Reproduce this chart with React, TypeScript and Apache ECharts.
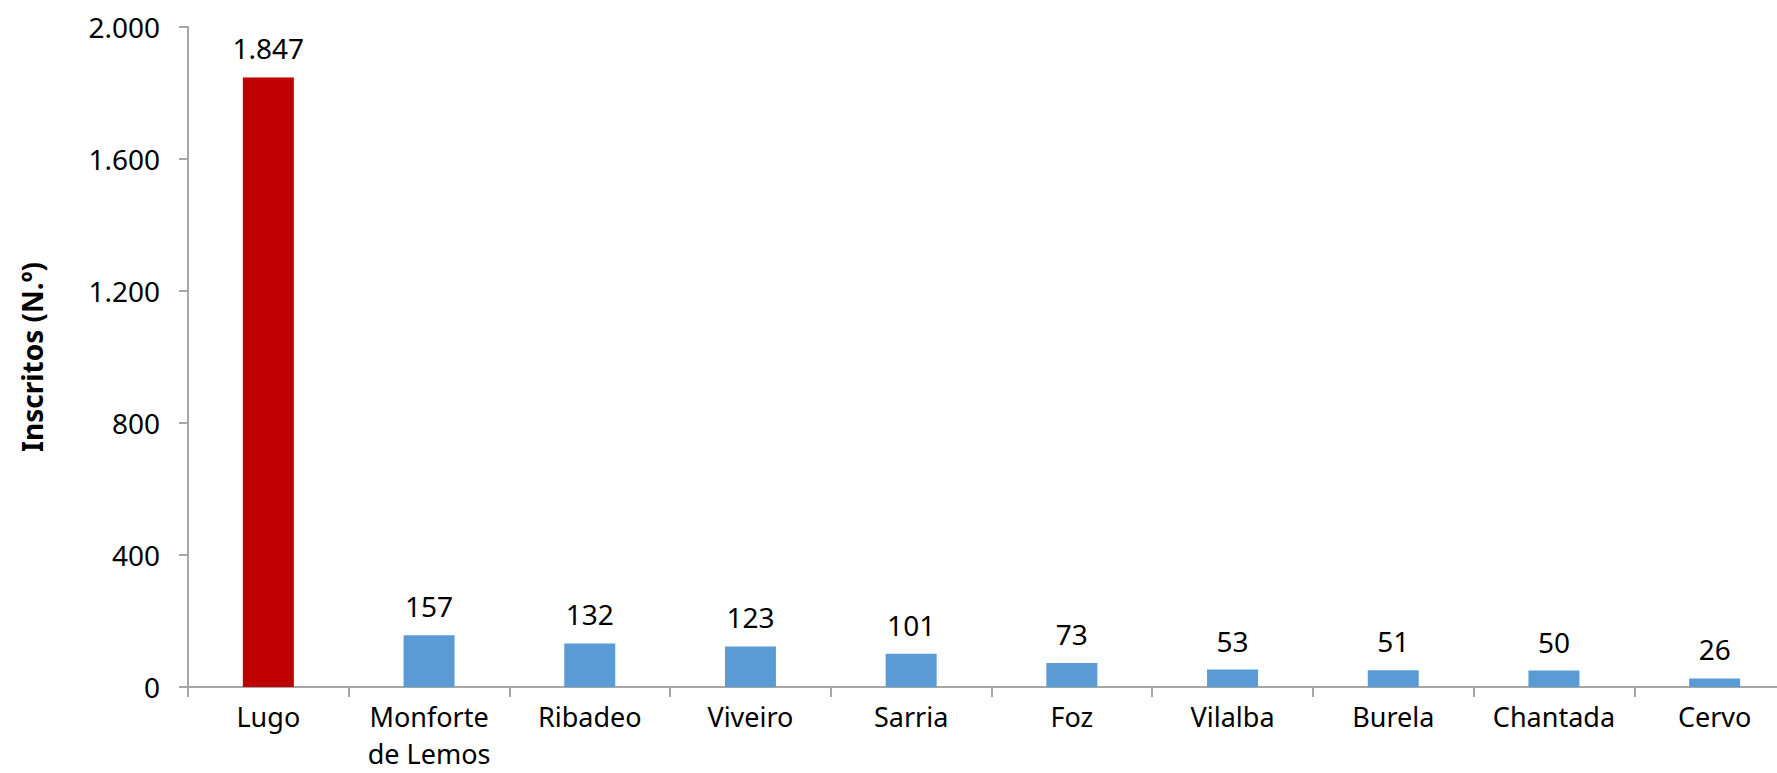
import React, { useEffect, useRef } from "react";
import * as echarts from "echarts";

const categories = ["Lugo", "Monforte\nde Lemos", "Ribadeo", "Viveiro", "Sarria", "Foz", "Vilalba", "Burela", "Chantada", "Cervo"];
const values = [1847, 157, 132, 123, 101, 73, 53, 51, 50, 26];
const highlightIndex = 0;
const yMin = 0;
const yMax = 2000;
const yInterval = 400;
const yAxisTitle = "Inscritos (N.º)";

const fmt = (v: number) => String(v).replace(/\B(?=(\d{3})+(?!\d))/g, ".");

const FONT = "Noto Sans";

export default function App() {
  const ref = useRef<HTMLDivElement>(null);
  useEffect(() => {
    if (!ref.current) return;
    const chart = echarts.init(ref.current, undefined, { renderer: "svg" });
    chart.setOption({
      animation: false,
      backgroundColor: "#ffffff",
      grid: { left: 188, top: 27, bottom: 86, right: -18, containLabel: false, outerBoundsMode: "none" },
      xAxis: {
        type: "category",
        data: categories,
        axisLine: { lineStyle: { color: "#A6A6A6", width: 2 } },
        axisTick: { show: true, length: 10, lineStyle: { color: "#A6A6A6", width: 2 } },
        axisLabel: {
          color: "#000",
          fontFamily: FONT,
          fontSize: 27,
          lineHeight: 37,
          margin: 11,
          interval: 0,
        },
      },
      yAxis: {
        type: "value",
        min: yMin,
        max: yMax,
        interval: yInterval,
        name: yAxisTitle,
        nameLocation: "middle",
        nameGap: 142,
        nameTextStyle: { color: "#000", fontFamily: FONT, fontSize: 28, fontWeight: "bold" },
        axisLine: { show: true, lineStyle: { color: "#A6A6A6", width: 2 } },
        axisTick: { show: true, length: 9, lineStyle: { color: "#A6A6A6", width: 2 } },
        splitLine: { show: false },
        axisLabel: {
          color: "#000",
          fontFamily: FONT,
          fontSize: 28,
          margin: 28,
          formatter: (v: number) => fmt(v),
        },
      },
      series: [
        {
          type: "bar",
          data: values.map((v, i) => ({
            value: v,
            itemStyle: { color: i === highlightIndex ? "#C00000" : "#5B9BD5" },
          })),
          barWidth: 51,
          label: {
            show: true,
            position: "top",
            distance: 15,
            color: "#000",
            fontFamily: FONT,
            fontSize: 28,
            formatter: (p: any) => fmt(p.value),
          },
        },
      ],
    });
    return () => chart.dispose();
  }, []);
  return (
    <div
      ref={ref}
      style={{ position: "fixed", left: 0, top: 0, width: 1777, height: 773 }}
    />
  );
}
